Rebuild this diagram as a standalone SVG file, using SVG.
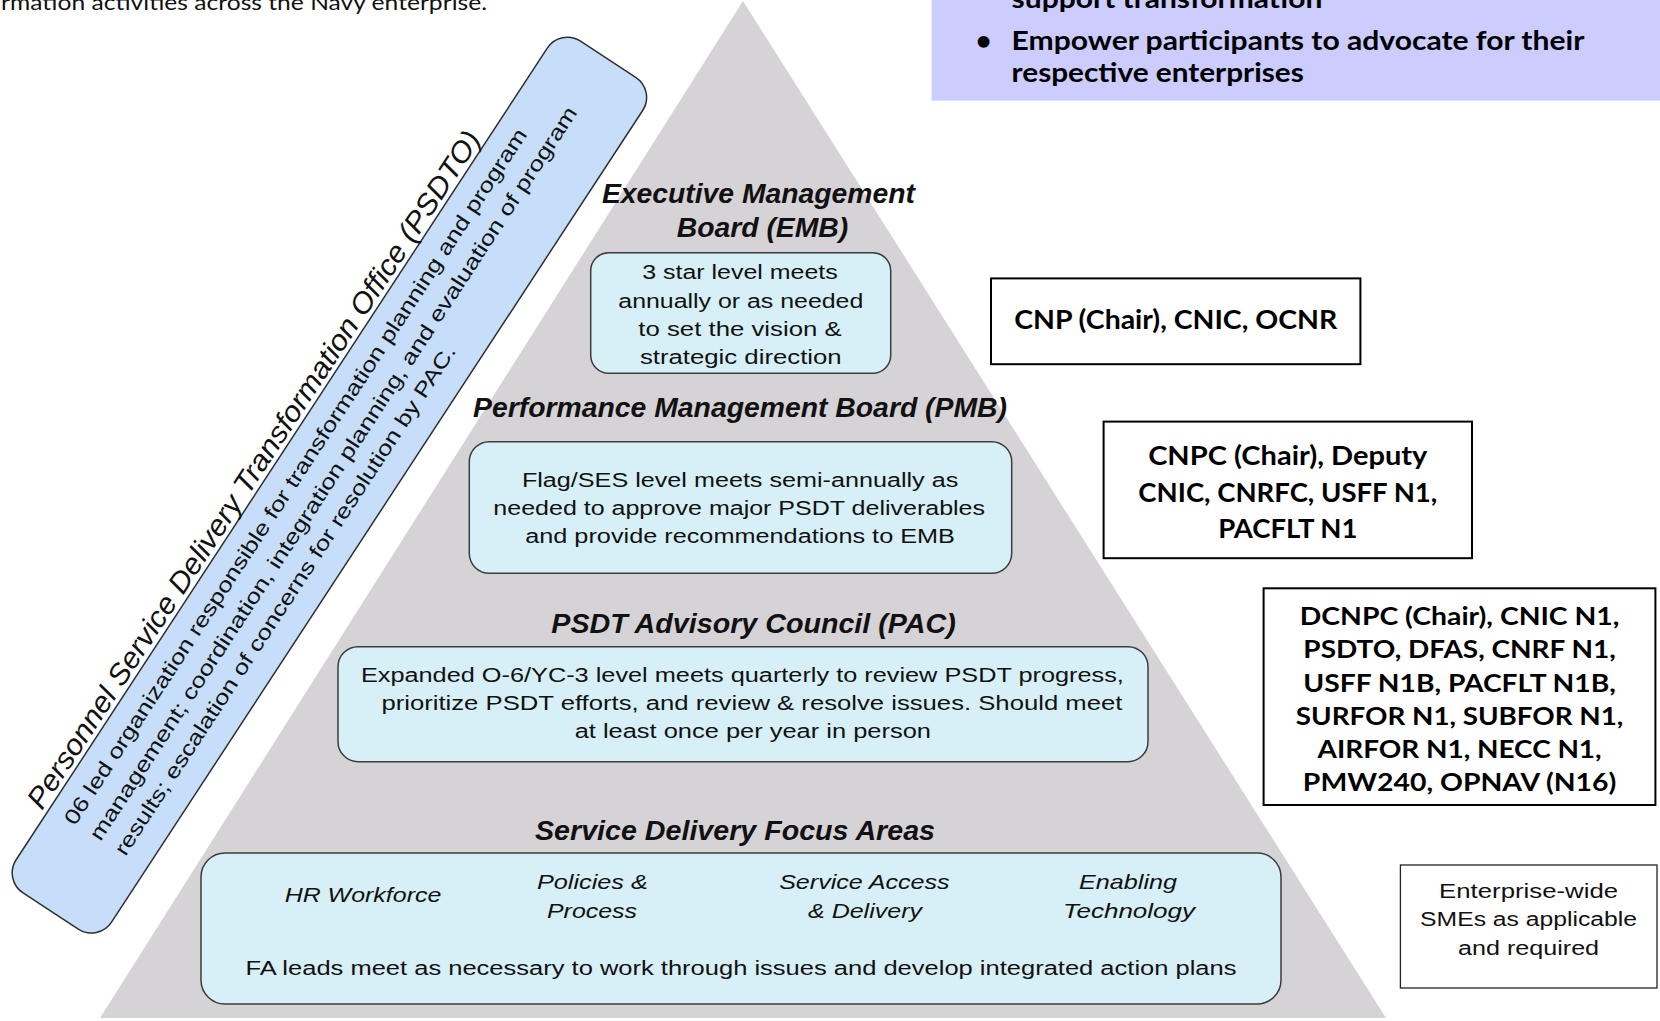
<svg xmlns="http://www.w3.org/2000/svg" width="1660" height="1021" viewBox="0 0 1660 1021">
<defs>
<style>
.ar{font-family:"Liberation Sans",Arial,sans-serif;fill:#111}
.body{font-size:20px}
.ttl{font-size:27px;font-weight:bold;font-style:italic}
.it{font-size:21px;font-style:italic}
.cal{font-family:Lato,"Open Sans",sans-serif;font-weight:bold;fill:#000}
.lvl{fill:#d7f0f7;stroke:#3c3c3c;stroke-width:1.5}
.rbox{fill:#fff;stroke:#000;stroke-width:2}
.mid{text-anchor:middle}
</style>
</defs>
<rect width="1660" height="1021" fill="#fff"/>

<g id="intro-text">
<text x="1" y="10" font-family="Lato,'Open Sans',sans-serif" font-size="21" fill="#111" textLength="486" lengthAdjust="spacingAndGlyphs">rmation activities across the Navy enterprise.</text>
</g>

<g id="pyramid">
<polygon points="743,1 100,1018 1386,1018" fill="#d6d3d7"/>
</g>

<g id="objectives">
<rect x="931.6" y="-2" width="731" height="102.6" fill="#ccccff"/>
<text class="cal" font-size="27" x="1011.6" y="8.3" textLength="310.7" lengthAdjust="spacingAndGlyphs">support transformation</text>
<text class="cal mid" font-size="27" x="983.7" y="50">•</text>
<text class="cal" font-size="27" x="1011.6" y="50" textLength="572.8" lengthAdjust="spacingAndGlyphs">Empower participants to advocate for their</text>
<text class="cal" font-size="27" x="1011.6" y="81.7" textLength="292.2" lengthAdjust="spacingAndGlyphs">respective enterprises</text>
</g>

<g id="psdto" transform="translate(329.4,485.1) rotate(-56.8)">
<rect x="-509" y="-57" width="1018" height="114" rx="24" fill="#c6defa" stroke="#2f2f2f" stroke-width="1.5"/>
<text class="ar" x="-430" y="-62" font-size="29" font-style="italic" textLength="803" lengthAdjust="spacingAndGlyphs">Personnel Service Delivery Transformation Office (PSDTO)</text>
<text class="ar" x="-425" y="-26" font-size="21" textLength="827" lengthAdjust="spacingAndGlyphs">06 led organization responsible for transformation planning and program</text>
<text class="ar" x="-424" y="4" font-size="21" textLength="872" lengthAdjust="spacingAndGlyphs">management; coordination, integration planning, and evaluation of program</text>
<text class="ar" x="-423" y="33" font-size="21" textLength="605" lengthAdjust="spacingAndGlyphs">results; escalation of concerns for resolution by PAC.</text>
</g>

<g id="emb">
<text class="ar ttl mid" x="758.4" y="203.3" textLength="313" lengthAdjust="spacingAndGlyphs">Executive Management</text>
<text class="ar ttl mid" x="762.5" y="237" textLength="171.6" lengthAdjust="spacingAndGlyphs">Board (EMB)</text>
<rect class="lvl" x="590.7" y="252.7" width="300" height="120.6" rx="18"/>
<text class="ar body mid" x="740" y="279" textLength="195.6" lengthAdjust="spacingAndGlyphs">3 star level meets</text>
<text class="ar body mid" x="740.8" y="307.7" textLength="245" lengthAdjust="spacingAndGlyphs">annually or as needed</text>
<text class="ar body mid" x="740" y="335.7" textLength="203.4" lengthAdjust="spacingAndGlyphs">to set the vision &amp;</text>
<text class="ar body mid" x="740.8" y="364" textLength="201.7" lengthAdjust="spacingAndGlyphs">strategic direction</text>
</g>

<g id="pmb">
<text class="ar ttl mid" x="740" y="417" textLength="534" lengthAdjust="spacingAndGlyphs">Performance Management Board (PMB)</text>
<rect class="lvl" x="469.3" y="441.7" width="542.4" height="131.6" rx="20"/>
<text class="ar body mid" x="740.1" y="487" textLength="436.4" lengthAdjust="spacingAndGlyphs">Flag/SES level  meets semi-annually as</text>
<text class="ar body mid" x="739.2" y="515" textLength="491.7" lengthAdjust="spacingAndGlyphs">needed to approve major PSDT deliverables</text>
<text class="ar body mid" x="740.1" y="543" textLength="429.8" lengthAdjust="spacingAndGlyphs">and provide recommendations to EMB</text>
</g>

<g id="pac">
<text class="ar ttl mid" x="753.5" y="633" textLength="404.4" lengthAdjust="spacingAndGlyphs">PSDT Advisory Council (PAC)</text>
<rect class="lvl" x="338" y="646.7" width="810" height="115" rx="20"/>
<text class="ar body mid" x="742.4" y="681.7" textLength="763" lengthAdjust="spacingAndGlyphs">Expanded O-6/YC-3 level meets quarterly  to review PSDT progress,</text>
<text class="ar body mid" x="751.9" y="710" textLength="741" lengthAdjust="spacingAndGlyphs">prioritize PSDT efforts, and review &amp; resolve issues.  Should meet</text>
<text class="ar body mid" x="752.8" y="738.3" textLength="356.3" lengthAdjust="spacingAndGlyphs">at least once per year in person</text>
</g>

<g id="sdfa">
<text class="ar ttl mid" x="735" y="840" textLength="400" lengthAdjust="spacingAndGlyphs">Service Delivery Focus Areas</text>
<rect class="lvl" x="201" y="853" width="1080" height="151" rx="24"/>
<text class="ar it mid" x="363" y="902" textLength="156.7" lengthAdjust="spacingAndGlyphs">HR Workforce</text>
<text class="ar it mid" x="592.4" y="889" textLength="111" lengthAdjust="spacingAndGlyphs">Policies &amp;</text>
<text class="ar it mid" x="592" y="918" textLength="90" lengthAdjust="spacingAndGlyphs">Process</text>
<text class="ar it mid" x="864.4" y="889" textLength="170.5" lengthAdjust="spacingAndGlyphs">Service Access</text>
<text class="ar it mid" x="865" y="918" textLength="114" lengthAdjust="spacingAndGlyphs">&amp; Delivery</text>
<text class="ar it mid" x="1128" y="889" textLength="98" lengthAdjust="spacingAndGlyphs">Enabling</text>
<text class="ar it mid" x="1129" y="918" textLength="132" lengthAdjust="spacingAndGlyphs">Technology</text>
<text class="ar mid" font-size="20" x="741" y="975" textLength="991" lengthAdjust="spacingAndGlyphs">FA leads meet as necessary to work through issues and develop integrated action plans</text>
</g>

<g id="emb-members">
<rect class="rbox" x="991" y="278.4" width="369.4" height="85.8"/>
<text class="cal mid" font-size="26" x="1175.7" y="329" textLength="323" lengthAdjust="spacingAndGlyphs">CNP (Chair), CNIC, OCNR</text>
</g>

<g id="pmb-members">
<rect class="rbox" x="1103.6" y="421.6" width="368.4" height="136.6"/>
<text class="cal mid" font-size="26" x="1287.8" y="465" textLength="279.3" lengthAdjust="spacingAndGlyphs">CNPC (Chair), Deputy</text>
<text class="cal mid" font-size="26" x="1287.8" y="501.7" textLength="298.9" lengthAdjust="spacingAndGlyphs">CNIC, CNRFC, USFF N1,</text>
<text class="cal mid" font-size="26" x="1287.8" y="538.3" textLength="139.3" lengthAdjust="spacingAndGlyphs">PACFLT N1</text>
</g>

<g id="pac-members">
<rect class="rbox" x="1263.6" y="588.3" width="391.8" height="216.7"/>
<text class="cal mid" font-size="25" x="1459.6" y="625" textLength="319.6" lengthAdjust="spacingAndGlyphs">DCNPC (Chair), CNIC N1,</text>
<text class="cal mid" font-size="25" x="1459.6" y="658.3" textLength="312.5" lengthAdjust="spacingAndGlyphs">PSDTO, DFAS, CNRF N1,</text>
<text class="cal mid" font-size="25" x="1459.6" y="691.6" textLength="312.5" lengthAdjust="spacingAndGlyphs">USFF N1B, PACFLT N1B,</text>
<text class="cal mid" font-size="25" x="1459.6" y="725" textLength="327.5" lengthAdjust="spacingAndGlyphs">SURFOR N1, SUBFOR N1,</text>
<text class="cal mid" font-size="25" x="1459.6" y="758.3" textLength="284" lengthAdjust="spacingAndGlyphs">AIRFOR N1, NECC N1,</text>
<text class="cal mid" font-size="25" x="1459.6" y="790.5" textLength="313.5" lengthAdjust="spacingAndGlyphs">PMW240, OPNAV (N16)</text>
</g>

<g id="sdfa-members">
<rect x="1400.4" y="865" width="256.6" height="123" fill="#fff" stroke="#222" stroke-width="1.3"/>
<text class="ar body mid" x="1528.6" y="898" textLength="179" lengthAdjust="spacingAndGlyphs">Enterprise-wide</text>
<text class="ar body mid" x="1528.6" y="926" textLength="217" lengthAdjust="spacingAndGlyphs">SMEs as applicable</text>
<text class="ar body mid" x="1528.6" y="955" textLength="141" lengthAdjust="spacingAndGlyphs">and required</text>
</g>
</svg>
